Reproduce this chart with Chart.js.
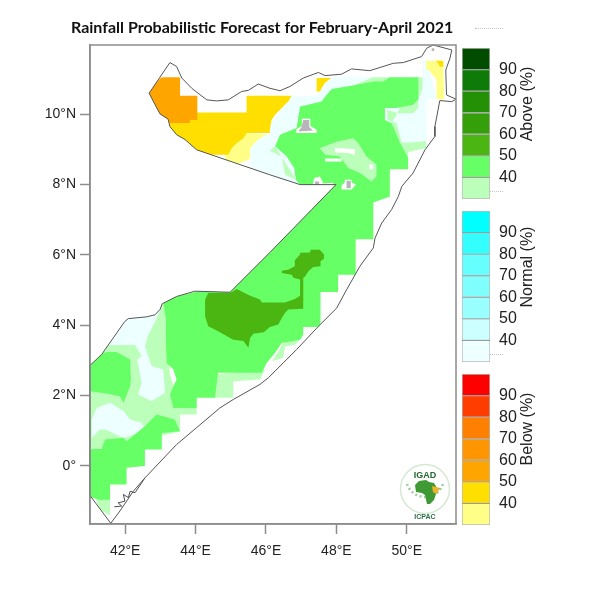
<!DOCTYPE html>
<html lang="en">
<head>
    <meta charset="UTF-8">
    <title>Rainfall Probabilistic Forecast for February-April 2021</title>
    <script src="https://cdn.jsdelivr.net/npm/chart.js"></script>
    <style>
        html, body { margin: 0; padding: 0; background: #fff; }
        body { position: relative; width: 600px; height: 600px; overflow: hidden; }
        canvas { position: absolute; }
        #title { position: absolute; left: 71px; top: 17px; font: bold 16px Lato, sans-serif; color: #111; white-space: nowrap; }
        .barTitle { position: absolute; left: 527px; font: 16px "Liberation Sans", Arial, sans-serif; color: #222; white-space: nowrap; transform: translate(-50%, -50%) rotate(-90deg); }
        .speck { position: absolute; height: 0; border-top: 1px dotted #c4c4c4; }
        #logo { position: absolute; left: 398px; top: 462px; }
    </style>
</head>
<body>
    <canvas id="map" width="600" height="600" style="left:0;top:0"></canvas>
    <div id="title">Rainfall Probabilistic Forecast for February-April 2021</div>
    <div class="speck" style="left:475px;top:28px;width:28px"></div>
    <canvas id="aboveBar" width="90" height="161" style="left:461px;top:43px"></canvas>
    <canvas id="normalBar" width="90" height="161" style="left:461px;top:206px"></canvas>
    <canvas id="belowBar" width="90" height="161" style="left:461px;top:369px"></canvas>
    <div class="speck" style="left:490px;top:191px;width:13px"></div>
    <div class="speck" style="left:490px;top:354px;width:13px"></div>
    <div class="barTitle" style="top:104px">Above (%)</div>
    <div class="barTitle" style="top:267px">Normal (%)</div>
    <div class="barTitle" style="top:429px">Below (%)</div>
    <svg id="logo" width="54" height="60" viewBox="0 0 54 60">
        <circle cx="27" cy="27" r="24.5" fill="#fff" stroke="#d5e8d2" stroke-width="1.5"/>
        <path d="M9 22 A19 19 0 0 0 45 22" fill="none" stroke="#7fbb78" stroke-width="2.5" stroke-dasharray="2 2.5" opacity="0.75"/>
        <path d="M17 23 L21 19 L28 18 L31 20 L36 21 L39 26 L42 26 L38 32 L36 38 L32 42 L29 42 L27 33 L24 31 L18 30 Z" fill="#3f9a35"/>
        <path d="M34 24 L42 26 L38 32 L35 30 Z" fill="#f0b429"/>
        <text x="27" y="16" text-anchor="middle" font-family="Liberation Sans" font-weight="bold" font-size="9" fill="#1f6a2d">IGAD</text>
        <text x="27" y="57" text-anchor="middle" font-family="Liberation Sans" font-weight="bold" font-size="7" fill="#2c6e49">ICPAC</text>
    </svg>
    <script>
        // map axes
        const lonRange = [41, 51.4];
        const latRange = [-1.65, 11.97];
        const lonTicks = [42, 44, 46, 48, 50];
        const lonLabels = ['42°E', '44°E', '46°E', '48°E', '50°E'];
        const latTicks = [0, 2, 4, 6, 8, 10];
        const latLabels = ['0°', '2°N', '4°N', '6°N', '8°N', '10°N'];

        // colour bars
        const levels = [30, 40, 50, 60, 70, 80, 90, 100];
        const levelTicks = [40, 50, 60, 70, 80, 90];
        const aboveColors = ['#bbffbb', '#66ff66', '#4bb512', '#349f08', '#249005', '#0e7a08', '#004d00'];
        const normalColors = ['#eeffff', '#ccffff', '#99ffff', '#80ffff', '#66ffff', '#33ffff', '#00ffff'];
        const belowColors = ['#ffff88', '#ffdf00', '#ffa500', '#ff9500', '#ff7f00', '#ff3d00', '#ff0000'];

        // boundary, [lon, lat]
        const outline = [[42.68,10.60],[43.27,11.47],[43.46,11.36],[43.61,11.03],[43.89,10.74],[44.32,10.41],[44.60,10.38],[44.93,10.41],[45.31,10.65],[45.50,10.68],[45.78,10.86],[46.11,10.74],[46.40,10.67],[46.68,10.79],[47.06,11.03],[47.49,11.19],[47.68,11.10],[48.15,11.14],[48.43,11.29],[48.95,11.24],[49.62,11.45],[49.90,11.47],[50.42,11.64],[50.57,11.88],[50.75,11.97],[51.28,11.83],[51.23,11.60],[51.11,11.26],[51.13,10.55],[51.40,10.43],[51.28,10.36],[50.94,10.39],[50.80,9.65],[50.80,9.37],[50.52,8.99],[50.18,8.33],[49.86,7.95],[49.76,7.66],[49.57,7.29],[49.29,6.91],[49.10,6.48],[49.05,6.20],[48.67,5.68],[48.29,5.01],[48.01,4.49],[47.49,3.97],[46.87,3.31],[46.49,2.93],[46.07,2.51],[45.83,2.32],[45.07,1.89],[44.69,1.65],[44.03,1.09],[43.46,0.61],[42.56,-0.34],[42.23,-0.72],[41.85,-1.28],[41.59,-1.63],[41,-0.84],[41,2.86],[41.33,3.17],[41.99,4.11],[42.09,4.19],[42.61,4.24],[42.85,4.30],[42.99,4.45],[43.05,4.61],[43.46,4.82],[43.98,4.97],[44.98,4.94],[46.11,6.07],[47.30,7.29],[47.99,8.00],[46.97,8.00],[46.11,8.28],[44.03,8.99],[43.70,9.28],[43.46,9.42],[43.27,9.65],[43.22,9.86],[42.99,10.01],[42.85,10.27],[42.68,10.60]];
        const islands = [[41.69,-1.16],[41.90,-1.14],[41.80,-1.05],[41.99,-1.00],[41.95,-0.81],[42.09,-0.90],[42.14,-0.72],[42.28,-0.76],[42.56,-0.34]];

        // probability areas, [lon, lat]
        const normal40North = [[46.73,10.53],[47.44,10.53],[47.85,11.05],[50.45,11.05],[50.45,11.53],[50.57,11.53],[50.85,10.43],[50.57,10.43],[50.57,9.23],[50.04,8.94],[49.33,9.28],[48.95,10.22],[46.87,9.61],[46.97,7.91],[45.55,8.28],[45.55,9.04],[45.78,9.28],[46.02,9.42],[46.11,9.70]];
        const above40Top = [[48.53,10.84],[49.05,11.05],[49.52,11.05],[49.52,10.70],[48.53,10.70]];
        const above40East = [[50.28,11.05],[50.45,11.05],[50.45,10.74],[50.33,10.41],[50.33,10.18],[50.18,10.03],[49.76,10.03],[49.45,10.13],[49.45,9.84],[49.71,9.75],[49.86,9.18],[50.55,9.23],[50.55,9.04],[50.04,8.93],[50.04,8.71],[49.33,9.28]];
        const above40West = [[46.11,8.96],[46.26,9.09],[46.85,8.14],[46.54,8.28],[46.45,8.79]];
        const above40Coast = [[44.55,2.60],[45.97,2.74],[45.83,2.46],[45.07,2.41],[45.07,1.94],[44.55,1.94]];
        const above40Strip = [[46.21,3.03],[46.49,3.50],[47.01,3.64],[46.82,3.45],[46.54,3.40],[46.49,3.07],[46.16,2.98]];
        const above40South = [[40.86,2.12],[40.86,0.41],[43.56,0.98],[43.56,1.46],[44.03,1.46],[44.03,1.95],[43.50,1.89],[43.27,2.60],[43.18,4.16],[43.07,4.73],[42.85,4.11],[42.23,3.45],[41.47,3.45],[41.14,3.03]];
        const above40Tip = [[41.14,-0.89],[41.57,-0.89],[41.57,-1.41],[41.28,-1.24]];
        const normal40West = [[41.40,3.45],[42.28,3.45],[42.47,3.12],[42.34,3.03],[42.47,2.36],[42.37,2.03],[42.75,1.84],[43.13,2.08],[43.08,2.74],[42.75,2.84],[42.56,3.40],[42.66,3.74],[42.85,4.11],[43.04,4.54],[42.99,4.87],[41.85,4.30],[41.14,3.45]];
        const normal40South = [[41.19,1.65],[41.57,1.80],[41.95,1.56],[42.14,1.32],[42.47,1.23],[42.56,1.04],[42.14,0.85],[41.95,0.80],[41.43,1.04],[41.28,1.04],[41.05,0.80],[41.05,1.32]];
        const above50Main = [[46.97,10.22],[47.58,10.36],[47.72,10.55],[47.87,10.72],[48.58,10.84],[49.05,10.93],[49.33,10.93],[49.52,11.05],[50.33,11.05],[50.33,10.43],[50.18,10.27],[49.71,10.18],[49.38,10.18],[49.38,9.84],[49.57,9.75],[49.81,9.18],[50.04,8.76],[50.04,8.44],[49.52,8.44],[49.52,7.66],[49.05,7.49],[49.05,6.45],[48.55,6.45],[48.55,5.44],[48.05,5.44],[48.05,4.95],[47.55,4.95],[47.55,3.95],[47.06,3.95],[47.06,3.74],[46.97,3.59],[46.45,3.50],[46.26,3.22],[46.02,2.93],[45.88,2.65],[44.64,2.65],[44.55,1.94],[44.03,1.94],[44.03,1.65],[43.37,1.65],[43.27,2.03],[43.37,2.27],[43.46,2.46],[43.37,2.74],[43.18,2.93],[43.16,3.50],[43.16,4.16],[43.07,4.73],[44.92,5.16],[47.93,8.05],[46.97,7.99],[46.85,8.14],[46.80,8.47],[46.59,8.80],[46.26,9.09],[46.40,9.42],[46.87,9.61]];
        const above50West = [[40.86,3.03],[41.47,3.24],[41.76,3.24],[42.14,3.03],[42.16,2.46],[42.14,2.27],[41.95,1.80],[41.85,1.98],[41.47,2.06],[40.86,2.14]];
        const above50South = [[40.86,0.47],[41.33,0.49],[41.43,0.75],[41.95,0.80],[42.04,0.70],[42.56,1.13],[42.89,1.46],[43.41,1.32],[43.56,0.99],[43.04,0.94],[43.04,0.47],[42.56,0.47],[42.56,0.00],[42.04,-0.05],[42.04,-0.53],[41.57,-0.53],[41.57,-0.95],[41.30,-0.97],[40.86,-0.84]];
        const above40Inner = [[47.53,9.04],[48.05,9.23],[48.48,9.32],[48.62,9.18],[48.86,8.80],[49.14,8.57],[49.14,8.23],[49.00,8.09],[48.67,8.33],[48.34,8.47],[48.10,8.80],[47.68,8.85]];
        const blankBarA = [[47.96,9.04],[48.53,9.01],[48.53,8.85],[48.34,8.90],[47.96,8.91]];
        const blankBarB = [[47.68,8.74],[48.15,8.74],[48.15,8.66],[47.68,8.66]];
        const blankDot = [[48.93,8.57],[49.05,8.57],[49.05,8.44],[48.93,8.44]];
        const above60 = [[44.36,4.92],[44.98,4.92],[45.17,5.03],[45.55,4.84],[45.83,4.73],[45.88,4.65],[46.54,4.65],[46.82,4.75],[46.97,4.84],[46.97,5.30],[46.78,5.35],[46.73,5.44],[46.45,5.49],[46.45,5.55],[46.63,5.58],[46.82,5.68],[46.82,5.85],[46.97,6.01],[46.97,6.06],[47.25,6.07],[47.27,6.15],[47.53,6.15],[47.65,6.01],[47.65,5.89],[47.55,5.82],[47.55,5.68],[47.34,5.66],[47.20,5.53],[47.11,5.39],[47.06,5.35],[47.06,4.47],[46.63,4.45],[46.54,4.35],[46.45,4.21],[46.35,4.02],[46.11,3.95],[45.94,3.80],[45.64,3.76],[45.55,3.64],[45.50,3.36],[45.36,3.55],[45.07,3.59],[44.64,3.83],[44.36,3.97],[44.27,4.26],[44.27,4.73]];
        const below40West = [[46.02,9.42],[45.78,9.28],[45.55,9.04],[45.55,8.73],[45.17,8.57],[44.84,8.57],[44.84,8.99],[45.45,9.47]];
        const below40East = [[50.55,11.52],[51.04,11.52],[51.06,10.43],[50.85,10.43],[50.85,10.98],[50.66,11.22],[50.55,11.31]];
        const below50 = [[44.05,10.05],[45.45,10.05],[45.45,10.53],[46.73,10.53],[46.63,10.36],[46.54,10.27],[46.40,10.13],[46.26,9.99],[46.16,9.84],[46.11,9.56],[46.11,9.47],[45.45,9.47],[45.36,9.32],[45.17,9.18],[45.03,9.04],[44.93,8.85],[44.41,8.85],[44.13,8.57],[42.99,9.56],[43.13,9.75]];
        const below50North = [[47.44,11.03],[47.85,11.03],[47.68,10.90],[47.61,10.79],[47.53,10.65],[47.44,10.65]];
        const below50East = [[50.82,11.52],[51.04,11.52],[51.04,11.35],[50.94,11.35],[50.89,11.46]];
        const below60 = [[43.04,11.05],[43.56,11.05],[43.56,10.53],[44.05,10.53],[44.05,9.84],[43.84,9.84],[43.84,9.75],[43.27,9.75],[43.08,9.84],[42.51,10.33],[42.62,10.70]];
        const haloA = [[47.02,9.87],[47.26,9.87],[47.26,9.67],[47.44,9.56],[47.44,9.47],[46.85,9.47],[46.87,9.58],[47.02,9.67]];
        const haloB = [[47.37,8.19],[47.53,8.23],[47.61,8.09],[47.61,7.99],[47.33,7.99]];
        const haloC = [[48.24,8.14],[48.43,8.14],[48.44,8.05],[48.56,8.00],[48.43,7.86],[48.15,7.86],[48.15,7.98],[48.24,8.05]];
        const noDataA = [[47.06,9.84],[47.23,9.84],[47.23,9.64],[47.34,9.54],[46.92,9.51],[47.01,9.64]];
        const noDataB = [[47.39,8.09],[47.51,8.09],[47.51,8.00],[47.39,8.00]];
        const noDataC = [[48.29,8.11],[48.41,8.11],[48.41,7.90],[48.29,7.90]];
        const noDataD = [[50.71,11.88],[50.78,11.88],[50.78,11.80],[50.71,11.80]];

        const blank = '#ffffff';
        const noData = '#b9b4ba';
        const n40 = normalColors[0];
        const a40 = aboveColors[0];
        const a50 = aboveColors[1];
        const a60 = aboveColors[2];
        const b40 = belowColors[0];
        const b50 = belowColors[1];
        const b60 = belowColors[2];

        // bottom layer first
        const areas = [
            [normal40North, n40], [above40Top, a40], [above40East, a40], [above40West, a40],
            [above40Coast, a40], [above40Strip, a40], [above40South, a40], [above40Tip, a40],
            [normal40West, n40], [normal40South, n40],
            [above50Main, a50], [above50West, a50], [above50South, a50],
            [above40Inner, a40], [blankBarA, blank], [blankBarB, blank], [blankDot, blank],
            [above60, a60],
            [below40West, b40], [below40East, b40], [below50, b50], [below50North, b50], [below50East, b50], [below60, b60],
            [haloA, blank], [haloB, blank], [haloC, blank],
            [noDataA, noData], [noDataB, noData], [noDataC, noData], [noDataD, noData]
        ];

        const toPoints = (pairs) => pairs.map((p) => ({ x: p[0], y: p[1] }));

        // Chart.js draws the first dataset last, so the boundary sits at index 0
        const lineColor = '#555555';
        const datasets = [
            { data: toPoints(outline), showLine: true, borderColor: lineColor, borderWidth: 1, pointRadius: 0, clip: false },
            { data: toPoints(islands), showLine: true, borderColor: '#222222', borderWidth: 0.8, pointRadius: 0, clip: false }
        ];
        areas.slice().reverse().forEach((a) => {
            datasets.push({ data: toPoints(a[0]), areaColor: a[1], showLine: false, pointRadius: 0 });
        });

        // fills every area through the scales' pixels, cut off at the boundary
        const areaFill = {
            id: 'areaFill',
            beforeDatasetDraw(chart, args) {
                const color = chart.data.datasets[args.index].areaColor;
                if (!color) return;
                const ctx = chart.ctx;
                ctx.save();
                ctx.beginPath();
                chart.getDatasetMeta(0).data.forEach((p, i) => i ? ctx.lineTo(p.x, p.y) : ctx.moveTo(p.x, p.y));
                ctx.closePath();
                ctx.clip();
                ctx.beginPath();
                args.meta.data.forEach((p, i) => i ? ctx.lineTo(p.x, p.y) : ctx.moveTo(p.x, p.y));
                ctx.closePath();
                ctx.fillStyle = color;
                ctx.fill();
                ctx.restore();
            },
            afterDraw(chart) {
                const { left, top, width, height } = chart.chartArea;
                chart.ctx.save();
                chart.ctx.strokeStyle = '#8c8c8c';
                chart.ctx.lineWidth = 1.5;
                chart.ctx.strokeRect(left, top, width, height);
                chart.ctx.restore();
            }
        };

        const tickFont = { family: '"Liberation Sans", Arial, sans-serif', size: 14 };

        new Chart(document.getElementById('map'), {
            type: 'scatter',
            data: { datasets: datasets },
            plugins: [areaFill],
            options: {
                responsive: false,
                animation: false,
                events: [],
                layout: { padding: { left: 0, top: 45, right: 144, bottom: 36 } },
                plugins: { legend: { display: false }, tooltip: { enabled: false } },
                scales: {
                    x: {
                        type: 'linear',
                        min: lonRange[0],
                        max: lonRange[1],
                        afterBuildTicks: (s) => { s.ticks = lonTicks.map((v) => ({ value: v })); },
                        afterFit: (s) => { s.height = 40; },
                        grid: { drawOnChartArea: false, tickLength: 10, color: '#8c8c8c', tickWidth: 1.5 },
                        border: { color: '#8c8c8c', width: 1.5 },
                        ticks: { autoSkip: false, maxRotation: 0, padding: 9, color: '#222', font: tickFont, callback: (v) => lonLabels[lonTicks.indexOf(v)] }
                    },
                    y: {
                        type: 'linear',
                        min: latRange[0],
                        max: latRange[1],
                        afterBuildTicks: (s) => { s.ticks = latTicks.map((v) => ({ value: v })); },
                        afterFit: (s) => { s.width = 90; },
                        grid: { drawOnChartArea: false, tickLength: 10, color: '#8c8c8c', tickWidth: 1.5 },
                        border: { color: '#8c8c8c', width: 1.5 },
                        ticks: { autoSkip: false, padding: 4, color: '#222', font: tickFont, callback: (v) => latLabels[latTicks.indexOf(v)] }
                    }
                }
            }
        });

        function colorBar(id, colors) {
            new Chart(document.getElementById(id), {
                type: 'bar',
                data: {
                    labels: [''],
                    datasets: colors.map((c, i) => ({
                        data: [[levels[i], levels[i + 1]]],
                        backgroundColor: c,
                        borderColor: 'rgba(0,0,0,0.28)',
                        borderWidth: 1,
                        borderSkipped: false,
                        grouped: false,
                        barPercentage: 1,
                        categoryPercentage: 1
                    }))
                },
                options: {
                    responsive: false,
                    animation: false,
                    events: [],
                    layout: { padding: { top: 5, bottom: 5, left: 1, right: 0 } },
                    plugins: { legend: { display: false }, tooltip: { enabled: false } },
                    scales: {
                        x: { display: false },
                        y: {
                            position: 'right',
                            min: levels[0],
                            max: levels[levels.length - 1],
                            afterBuildTicks: (s) => { s.ticks = levelTicks.map((v) => ({ value: v })); },
                            afterFit: (s) => { s.width = 61; s.paddingTop = 0; s.paddingBottom = 0; },
                            grid: { display: false, drawTicks: false },
                            border: { display: false },
                            ticks: { padding: 9, color: '#222', font: { family: tickFont.family, size: 16 } }
                        }
                    }
                }
            });
        }

        colorBar('aboveBar', aboveColors);
        colorBar('normalBar', normalColors);
        colorBar('belowBar', belowColors);
    </script>
</body>
</html>
